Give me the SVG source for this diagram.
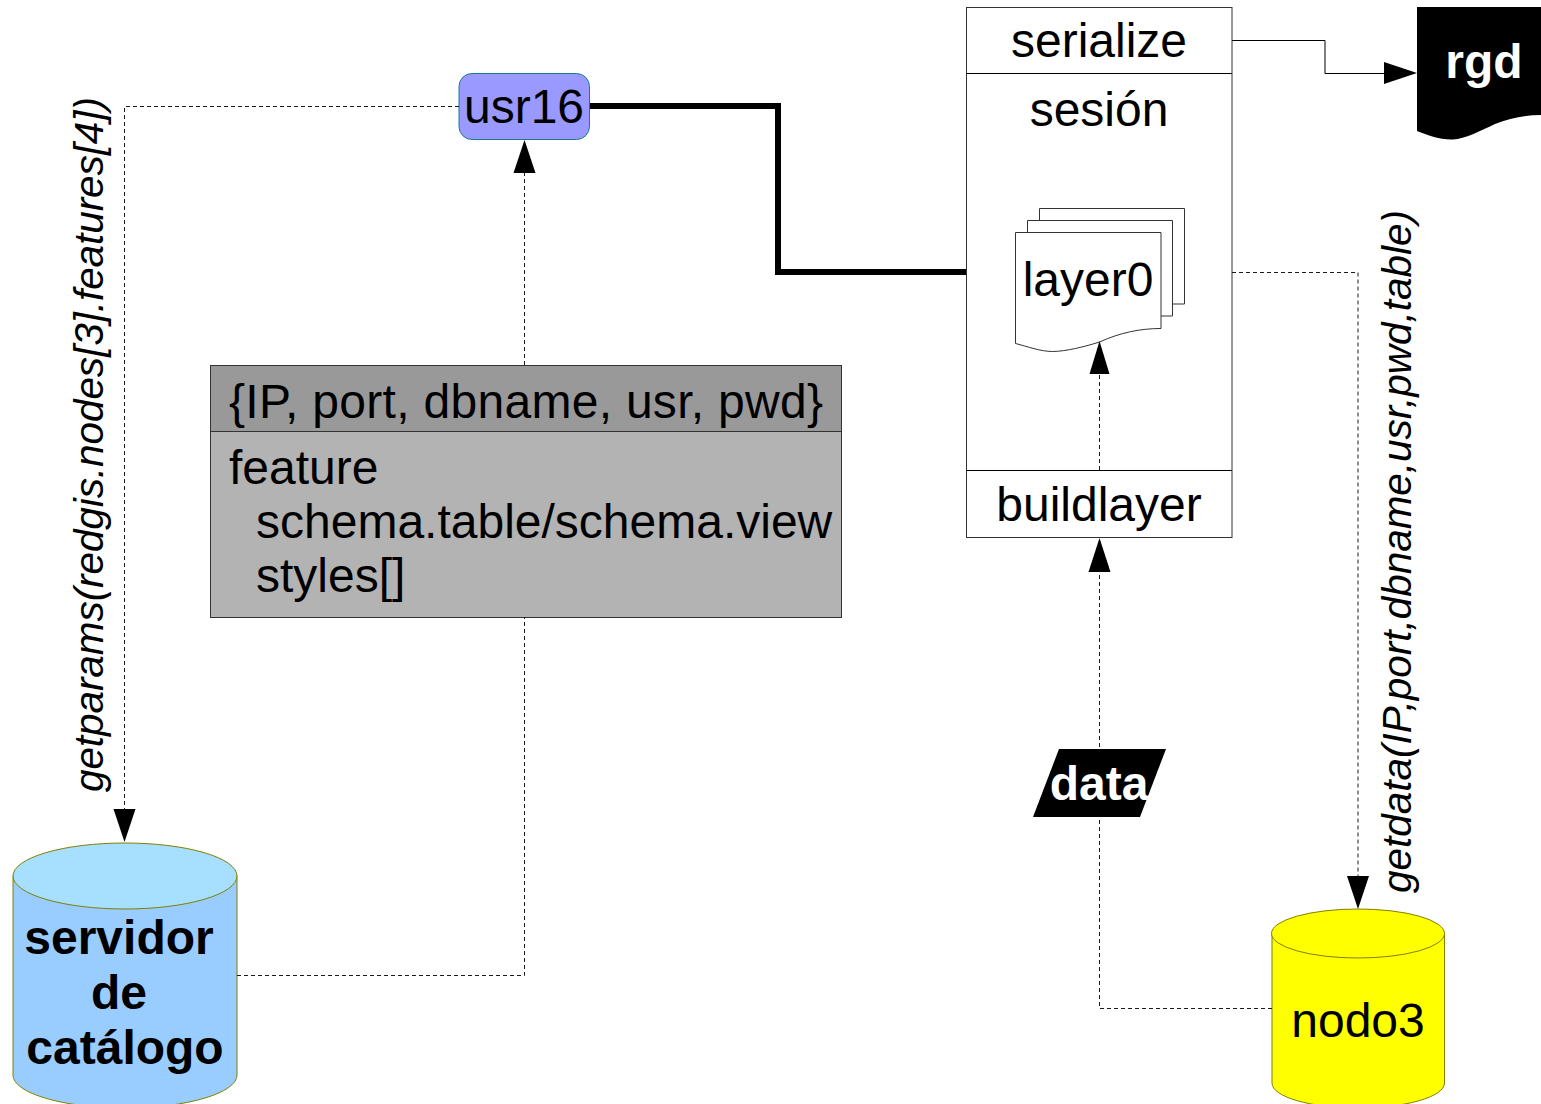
<svg xmlns="http://www.w3.org/2000/svg" width="1541" height="1104" viewBox="0 0 1541 1104">
<style>
text{font-family:"Liberation Sans",Arial,sans-serif;font-size:48px;fill:#000}
.m{text-anchor:middle}
.b{font-weight:bold}
.w{fill:#fff}
.i{font-style:italic;font-size:40.500px}
.box{fill:#fff;stroke:#333;stroke-width:1}
.d{fill:none;stroke:#1a1a1a;stroke-width:1;stroke-dasharray:4 3}
.s{fill:none;stroke:#000;stroke-width:1}
.t{fill:none;stroke:#000;stroke-width:6}
.k{fill:#000;stroke:none}
</style>
<defs>
<path id="doc" d="M0 0H145.500V96C125 96 105 100 84 109.500C70 114 50 119 37 119C25 119 12 114 0 111Z"/>
</defs>
<rect width="1541" height="1104" fill="#fff"/>
<g id="usr16">
<rect x="459" y="73.500" width="130.500" height="66" rx="13" fill="#9999ff" stroke="#1a7a8a" stroke-width="1"/>
<text class="m" x="524" y="123">usr16</text>
</g>
<g id="sesion">
<rect class="box" x="966.500" y="7.500" width="265.500" height="530"/>
<path class="s" d="M966.500 73.500H1232M966.500 470.500H1232"/>
<text class="m" x="1099" y="57">serialize</text>
<text class="m" x="1099" y="126">sesión</text>
<text class="m" x="1099" y="521">buildlayer</text>
</g>
<g id="layer0">
<path class="box" d="M1039.500 208.500H1184.500V304H1039.500Z"/>
<path class="box" d="M1027.500 220.500H1172.500V316H1027.500Z"/>
<use href="#doc" class="box" x="1015.500" y="232.500"/>
<text class="m" x="1088" y="296">layer0</text>
</g>
<g id="rgd">
<path class="k" d="M1417 7H1541V115C1525 115 1510 118 1495 124C1480 131 1465 139 1453 139.500C1440 140 1430 136 1417 131Z"/>
<text class="m b w" x="1484" y="78">rgd</text>
</g>
<g id="params">
<rect x="210.500" y="365.500" width="631" height="252" fill="#b3b3b3" stroke="#333"/>
<rect x="210.500" y="365.500" width="631" height="66" fill="#999999" stroke="#333"/>
<text x="229" y="418" textLength="594">{IP, port, dbname, usr, pwd}</text>
<text x="229" y="484">feature</text>
<text x="256" y="538">schema.table/schema.view</text>
<text x="256" y="592">styles[]</text>
</g>
<g id="catalogo">
<path d="M13 876V1075C13 1093 63 1108 125 1108S237 1093 237 1075V876Z" fill="#99ccff" stroke="#808000"/>
<ellipse cx="125" cy="876" rx="112" ry="33" fill="#a6dfff" stroke="#808000"/>
<text class="m b" x="119" y="954">servidor</text>
<text class="m b" x="119" y="1009">de</text>
<text class="m b" x="125" y="1064">catálogo</text>
</g>
<g id="nodo3">
<path d="M1272 933.500V1083C1272 1097 1311 1108 1358 1108S1444.500 1097 1444.500 1083V933.500Z" fill="#ffff00" stroke="#808000"/>
<ellipse cx="1358" cy="933.500" rx="86.500" ry="24.500" fill="#ffff00" stroke="#808000"/>
<text class="m" x="1358" y="1037">nodo3</text>
</g>
<g id="connectors">
<path class="d" d="M459 106.500H124.500V812"/>
<path class="d" d="M524.500 365V172"/>
<path class="d" d="M237 975.500H524.500V617"/>
<path class="d" d="M1232 272.500H1358V878"/>
<path class="d" d="M1272 1008.500H1099.500V572"/>
<path class="d" d="M1099.500 470V374"/>
<path class="t" d="M590 106H778V272H966"/>
<path class="s" d="M1232 40.500H1325V73.500H1385"/>
<path class="k" d="M1417 73L1384 62V84Z"/>
<path class="k" d="M524.500 140L513.500 173H535.500Z"/>
<path class="k" d="M124.500 842L113.500 809H135.500Z"/>
<path class="k" d="M1358 909L1347 876H1369Z"/>
<path class="k" d="M1099.500 538L1088.500 572H1110.500Z"/>
<path class="k" d="M1099.500 341L1089.500 374H1109.500Z"/>
</g>
<g id="data">
<path class="k" d="M1059 749H1166L1140 817H1033Z"/>
<text class="m b w" x="1099" y="800">data</text>
</g>
<g id="labels">
<text class="i" transform="translate(103 792) rotate(-90)" textLength="695">getparams(redgis.nodes[3].features[4])</text>
<text class="i" transform="translate(1411 893) rotate(-90)" textLength="683">getdata(IP,port,dbname,usr,pwd,table)</text>
</g>
</svg>
